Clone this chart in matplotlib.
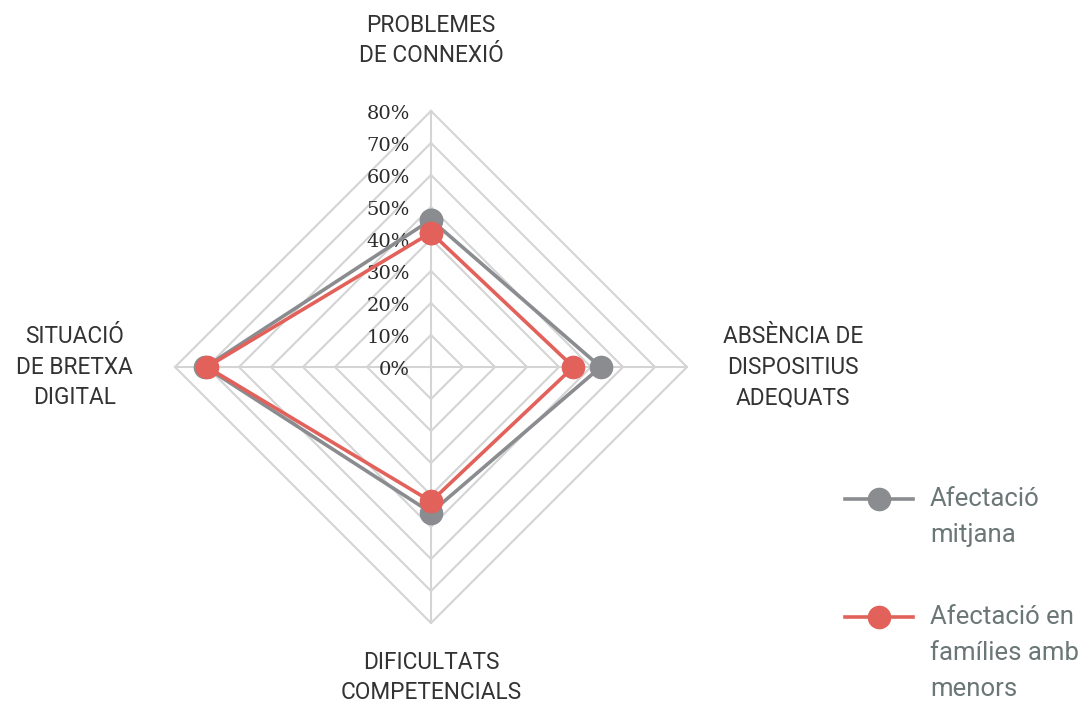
import numpy as np
import matplotlib
matplotlib.use("Agg")
import matplotlib.pyplot as plt
from matplotlib.lines import Line2D
from matplotlib.transforms import offset_copy

# ---------------- data ----------------
categories = [
    "PROBLEMES\nDE CONNEXIÓ",
    "ABSÈNCIA DE\nDISPOSITIUS\nADEQUATS",
    "DIFICULTATS\nCOMPETENCIALS",
    "SITUACIÓ\nDE BRETXA\nDIGITAL",
]
series_names = ["Afectació\nmitjana", "Afectació en\nfamílies amb\nmenors"]
afectacio_mitjana = [46, 53, 45.5, 70.5]
afectacio_menors = [42, 44.5, 42, 70]
ring_values = [0, 10, 20, 30, 40, 50, 60, 70, 80]
ring_labels = ["0%", "10%", "20%", "30%", "40%", "50%", "60%", "70%", "80%"]

# ---------------- style ----------------
W, H = 1085, 706
GRID = "#d4d4d4"
GRAY = "#8a8c8f"
RED = "#e2615b"
LABEL_C = "#333333"
LEG_C = "#6b7676"

fig = plt.figure(figsize=(W / 100, H / 100), dpi=100)
fig.patch.set_facecolor("white")

cx, cy, R = 431, 367, 256
ax = fig.add_axes([(cx - R) / W, (H - cy - R) / H, 2 * R / W, 2 * R / H],
                  projection="polar")
ax.set_theta_offset(np.pi / 2)
ax.set_theta_direction(-1)
ax.set_ylim(0, 80)
ax.set_xticks([])
ax.set_yticks([])
ax.grid(False)
ax.spines["polar"].set_visible(False)

n = len(categories)
theta = np.arange(n) * 2 * np.pi / n
theta_c = np.append(theta, theta[0])

# grid diamonds and spokes
for v in ring_values[1:]:
    ax.plot(theta_c, [v] * (n + 1), color=GRID, lw=1.5, zorder=1, clip_on=False)
for t in theta:
    ax.plot([t, t], [0, ring_values[-1]], color=GRID, lw=1.5, zorder=1, clip_on=False)

# radial tick labels
tick_tr = offset_copy(ax.transData, fig=fig, x=-21, y=-3, units="dots")
for v, lab in zip(ring_values, ring_labels):
    ax.text(0, v, lab, transform=tick_tr, ha="right", va="center",
            fontsize=14, family="DejaVu Serif", color="#2a2a2a", zorder=2)

# series
for vals, col, z in [(afectacio_mitjana, GRAY, 3), (afectacio_menors, RED, 4)]:
    ax.plot(theta_c, np.append(vals, vals[0]), color=col, lw=2.6, marker="o",
            ms=16, zorder=z, clip_on=False)

# category labels
label_r = [102.0, 113.1, 97.0, 111.4]
for t, lab, r in zip(theta, categories, label_r):
    ax.text(t, r, lab, ha="center", va="center", fontsize=16.3, family="Roboto",
            color=LABEL_C, linespacing=1.42, clip_on=False)

# legend (manual)
leg_y = [499, 617]
for name, col, y in zip(series_names, [GRAY, RED], leg_y):
    yf = 1 - y / H
    fig.add_artist(Line2D([845 / W, 913 / W], [yf, yf], transform=fig.transFigure,
                          color=col, lw=2.6))
    fig.add_artist(Line2D([879 / W], [yf], transform=fig.transFigure,
                          color=col, marker="o", ms=16, lw=0))
    fig.text(930 / W, 1 - (y - 12) / H, name, ha="left", va="top",
             fontsize=18.5, family="Roboto", color=LEG_C, linespacing=1.64)

fig.savefig("out.png", dpi=100)
